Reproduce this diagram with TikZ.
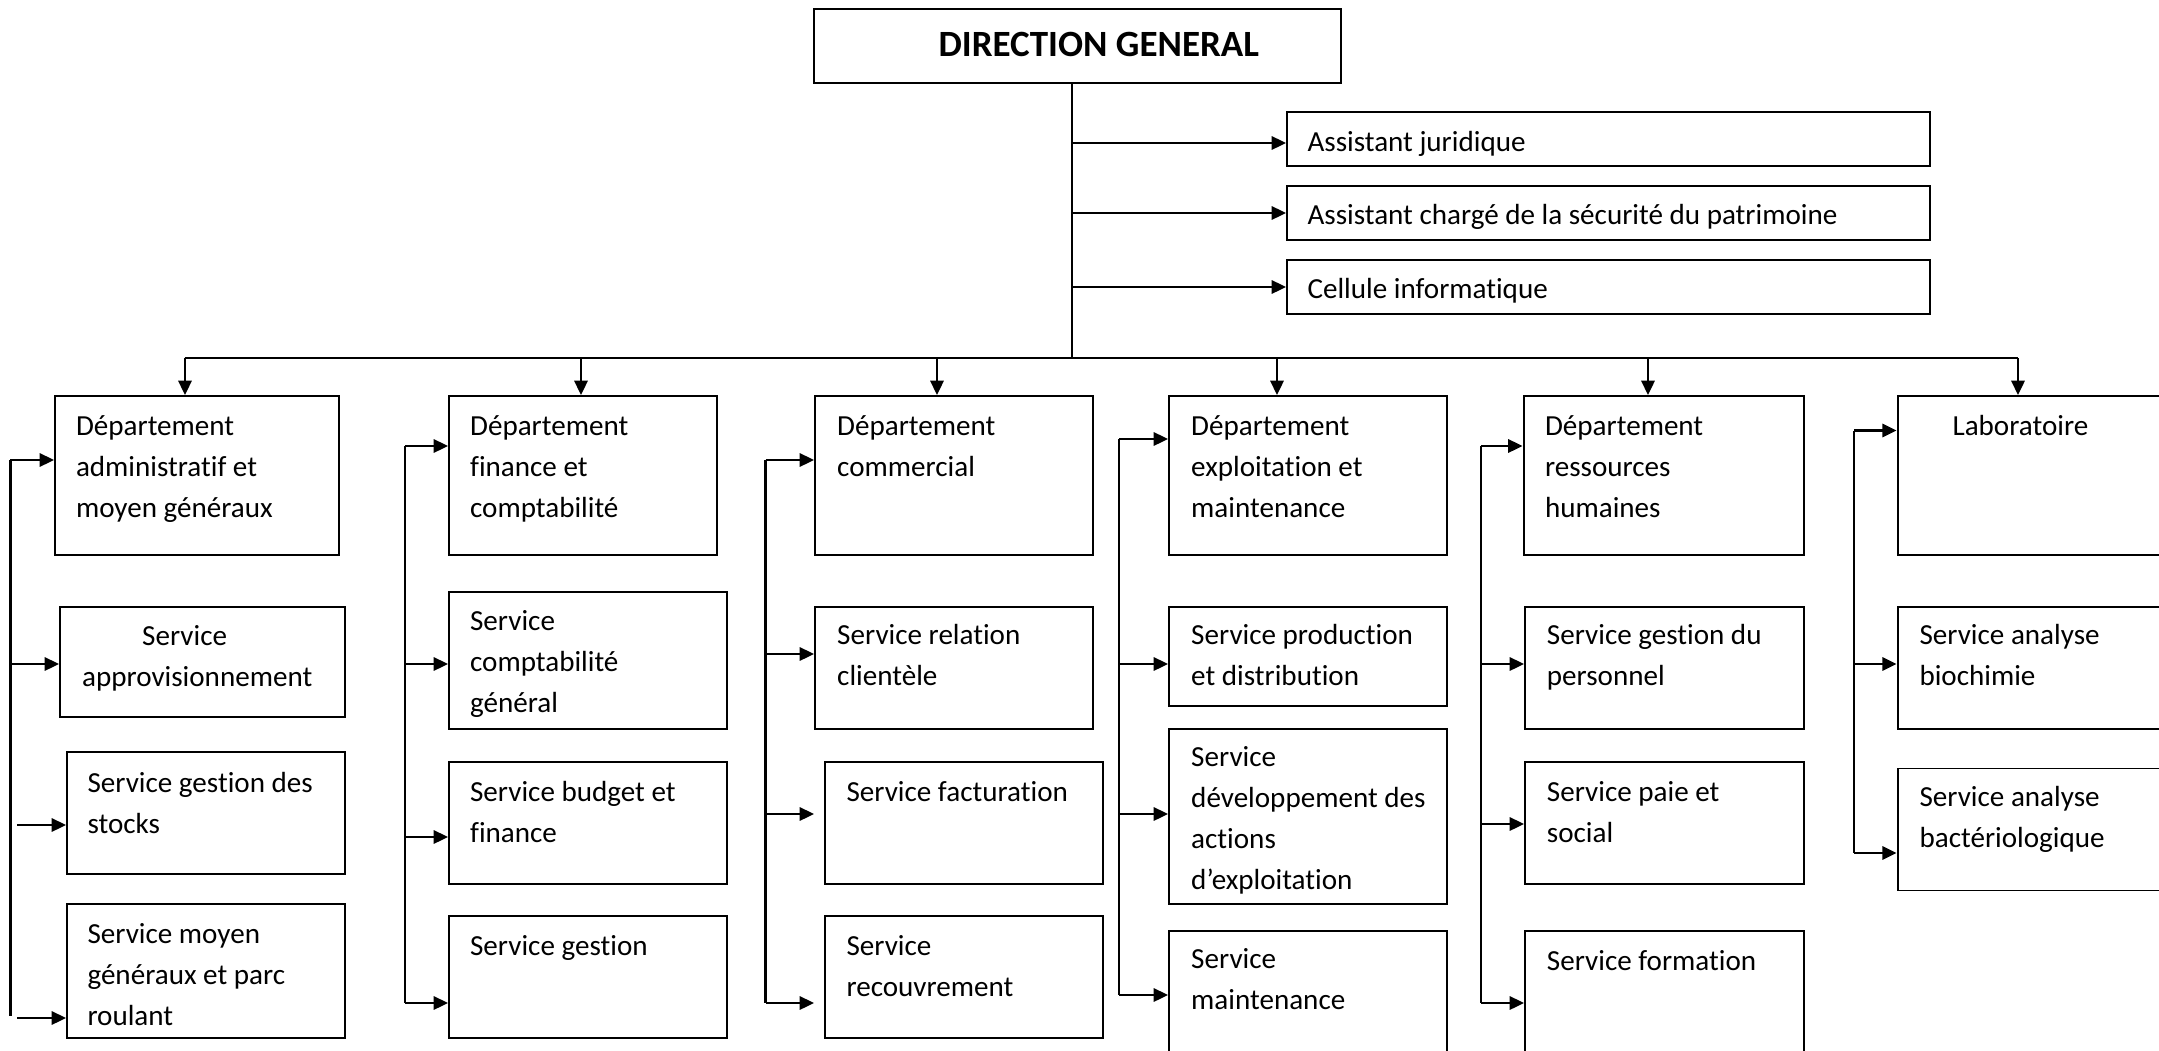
\documentclass[tikz,border=0pt]{standalone}
\usepackage{fontspec}
\setmainfont{Carlito}[Ligatures={CommonOff,ContextualOff}, RawFeature={-liga;-clig;-calt}]
\usetikzlibrary{arrows.meta,fit,calc}
\tikzset{
  box/.style={draw, line width=0.75pt, inner sep=0pt},
  txt/.style={anchor=base west, inner sep=0pt, font=\fontsize{11}{15.6}\selectfont},
  arr/.style={line width=0.95pt, -{Triangle[length=5.4pt,width=5pt]}},
  link/.style={line width=0.95pt},
  trunk/.style={line width=0.55pt},
}
% a framed unit: name, top-left corner, bottom-right corner
\newcommand\orgbox[5]{\node[box, fit={(#2,#3) (#4,#5)}] (#1) {};}
% its caption: name, first baseline position, lines
\newcommand\orgtext[4]{\node[txt] (#1) at (#2,#3) {\begin{tabular}[t]{@{}l@{}}#4\end{tabular}};}

\begin{document}
\begin{tikzpicture}[x=0.378pt, y=-0.378pt]
\clip (0,0) rectangle (2159,1051);
\fill[white] (0,0) rectangle (2159,1051);

% ---- direction and attached staff
\orgbox{dg}{814}{9}{1341}{83}
\node[txt, font=\fontsize{14}{16}\selectfont\bfseries] (dgt) at (938,56) {DIRECTION GENERAL};

\orgbox{aj}{1287}{112}{1930}{166}
\orgtext{ajt}{1307}{151}{Assistant juridique}
\orgbox{as}{1287}{186}{1930}{240}
\orgtext{ast}{1307}{224}{Assistant chargé de la sécurité du patrimoine}
\orgbox{ci}{1287}{260}{1930}{314}
\orgtext{cit}{1307}{298}{Cellule informatique}

% ---- column 1
\orgbox{dadm}{55}{396}{339}{555}
\orgtext{dadmt}{75.5}{435}{Département\\administratif et\\moyen généraux}
\orgbox{sappro}{60}{607}{345}{717}
\orgtext{sapprot}{81.6}{645}{\hspace{22.7pt}Service\\approvisionnement}
\orgbox{sstock}{67}{752}{345}{874}
\orgtext{sstockt}{87}{792}{Service gestion des\\stocks}
\orgbox{smoyen}{67}{904}{345}{1038}
\orgtext{smoyent}{87}{943}{Service moyen\\généraux et parc\\roulant}

% ---- column 2
\orgbox{dfin}{449}{396}{717}{555}
\orgtext{dfint}{469.6}{435}{Département\\finance et\\comptabilité}
\orgbox{scompta}{449}{592}{727}{729}
\orgtext{scomptat}{469.6}{630}{Service\\comptabilité\\général}
\orgbox{sbudget}{449}{762}{727}{884}
\orgtext{sbudgett}{469.6}{801}{Service budget et\\finance}
\orgbox{sgest}{449}{916}{727}{1038}
\orgtext{sgestt}{469.6}{955}{Service gestion}

% ---- column 3
\orgbox{dcom}{815}{396}{1093}{555}
\orgtext{dcomt}{836.7}{435}{Département\\commercial}
\orgbox{srel}{815}{607}{1093}{729}
\orgtext{srelt}{836.7}{644}{Service relation\\clientèle}
\orgbox{sfact}{825}{762}{1103}{884}
\orgtext{sfactt}{846}{801.5}{Service facturation}
\orgbox{srec}{825}{916}{1103}{1038}
\orgtext{srect}{846}{955}{Service\\recouvrement}

% ---- column 4
\orgbox{dexp}{1169}{396}{1447}{555}
\orgtext{dexpt}{1190.7}{435}{Département\\exploitation et\\maintenance}
\orgbox{sprod}{1169}{607}{1447}{706}
\orgtext{sprodt}{1190.7}{644}{Service production\\et distribution}
\orgbox{sdev}{1169}{729}{1447}{904}
\orgtext{sdevt}{1190.7}{766}{Service\\développement des\\actions\\d’exploitation}
\orgbox{smaint}{1169}{931}{1447}{1080}
\orgtext{smaintt}{1190.7}{968}{Service\\maintenance}

% ---- column 5
\orgbox{drh}{1523.5}{396}{1803.6}{555}
\orgtext{drht}{1544.5}{435}{Département\\ressources\\humaines}
\orgbox{sperso}{1525}{607}{1804}{729}
\orgtext{spersot}{1546.4}{644}{Service gestion du\\personnel}
\orgbox{spaie}{1525}{762}{1804}{884}
\orgtext{spaiet}{1546.4}{801}{Service paie et\\social}
\orgbox{sform}{1525}{931}{1804}{1080}
\orgtext{sformt}{1546.4}{970}{Service formation}

% ---- column 6
\orgbox{labo}{1897.6}{396}{2200}{555}
\orgtext{labot}{1952}{435}{Laboratoire}
\orgbox{sbio}{1897.6}{607}{2200}{729}
\orgtext{sbiot}{1919}{644}{Service analyse\\biochimie}
\orgbox{sbact}{1897.6}{768.5}{2200}{890.5}
\orgtext{sbactt}{1919}{806.6}{Service analyse\\bactériologique}

% ---- trunk, staff links and main bus
\coordinate (tr) at (1072,83);
\coordinate (bus) at (1072,358);
\draw[trunk] (tr) -- (bus);
\coordinate (aja) at (1072,143);
\coordinate (asa) at (1072,213);
\coordinate (cia) at (1072,287);
\draw[arr] (aja) -- (aja -| aj.west);
\draw[arr] (asa) -- (asa -| as.west);
\draw[arr] (cia) -- (cia -| ci.west);

\coordinate (bl) at (184.5,358);
\coordinate (br) at (2018,358);
\draw[link] (bl) -- (br);
\coordinate (t1) at (185,358);
\coordinate (t2) at (581,358);
\coordinate (t3) at (937,358);
\coordinate (t4) at (1277,358);
\coordinate (t5) at (1648,358);
\coordinate (t6) at (2018,358);
\draw[arr] (t1) -- (t1 |- dadm.north);
\draw[arr] (t2) -- (t2 |- dfin.north);
\draw[arr] (t3) -- (t3 |- dcom.north);
\draw[arr] (t4) -- (t4 |- dexp.north);
\draw[arr] (t5) -- (t5 |- drh.north);
\draw[arr] (t6) -- (t6 |- labo.north);

% ---- side feeders, column 1
\coordinate (v1a) at (10.4,460);
\coordinate (v1b) at (10.4,664);
\coordinate (v1e) at (10.4,1016);
\coordinate (v1c) at (17,825);
\coordinate (v1d) at (17,1018);
\draw[link] (v1a) -- (v1e);
\draw[arr] (v1a) -- (v1a -| dadm.west);
\draw[arr] (v1b) -- (v1b -| sappro.west);
\draw[arr] (v1c) -- (v1c -| sstock.west);
\draw[arr] (v1d) -- (v1d -| smoyen.west);

% ---- column 2
\coordinate (v2a) at (405,446);
\coordinate (v2b) at (405,664);
\coordinate (v2c) at (405,837);
\coordinate (v2d) at (405,1003);
\draw[link] (v2a) -- (v2d);
\draw[arr] (v2a) -- (v2a -| dfin.west);
\draw[arr] (v2b) -- (v2b -| scompta.west);
\draw[arr] (v2c) -- (v2c -| sbudget.west);
\draw[arr] (v2d) -- (v2d -| sgest.west);

% ---- column 3
\coordinate (v3a) at (765.5,460);
\coordinate (v3b) at (765.5,654);
\coordinate (v3c) at (765.5,814);
\coordinate (v3d) at (765.5,1003);
\draw[link] (v3a) -- (v3d);
\draw[arr] (v3a) -- (v3a -| dcom.west);
\draw[arr] (v3b) -- (v3b -| srel.west);
\draw[arr] (v3c) -- (v3c -| srel.west);
\draw[arr] (v3d) -- (v3d -| srel.west);

% ---- column 4
\coordinate (v4a) at (1119,439);
\coordinate (v4b) at (1119,664);
\coordinate (v4c) at (1119,814);
\coordinate (v4d) at (1119,995);
\draw[link] (v4a) -- (v4d);
\draw[arr] (v4a) -- (v4a -| dexp.west);
\draw[arr] (v4b) -- (v4b -| sprod.west);
\draw[arr] (v4c) -- (v4c -| sdev.west);
\draw[arr] (v4d) -- (v4d -| smaint.west);

% ---- column 5
\coordinate (v5a) at (1481,446);
\coordinate (v5b) at (1481,664);
\coordinate (v5c) at (1481,824);
\coordinate (v5d) at (1481,1003);
\draw[link] (v5a) -- (v5d);
\draw[arr] (v5a) -- (v5a -| drh.west);
\draw[arr] (v5b) -- (v5b -| sperso.west);
\draw[arr] (v5c) -- (v5c -| spaie.west);
\draw[arr] (v5d) -- (v5d -| sform.west);

% ---- column 6
\coordinate (v6a) at (1854,430.5);
\coordinate (v6b) at (1854,664);
\coordinate (v6c) at (1854,853);
\draw[link] (v6a) -- (v6c);
\draw[arr] (v6a) -- (v6a -| labo.west);
\draw[arr] (v6b) -- (v6b -| sbio.west);
\draw[arr] (v6c) -- (v6c -| sbact.west);
\end{tikzpicture}
\end{document}
